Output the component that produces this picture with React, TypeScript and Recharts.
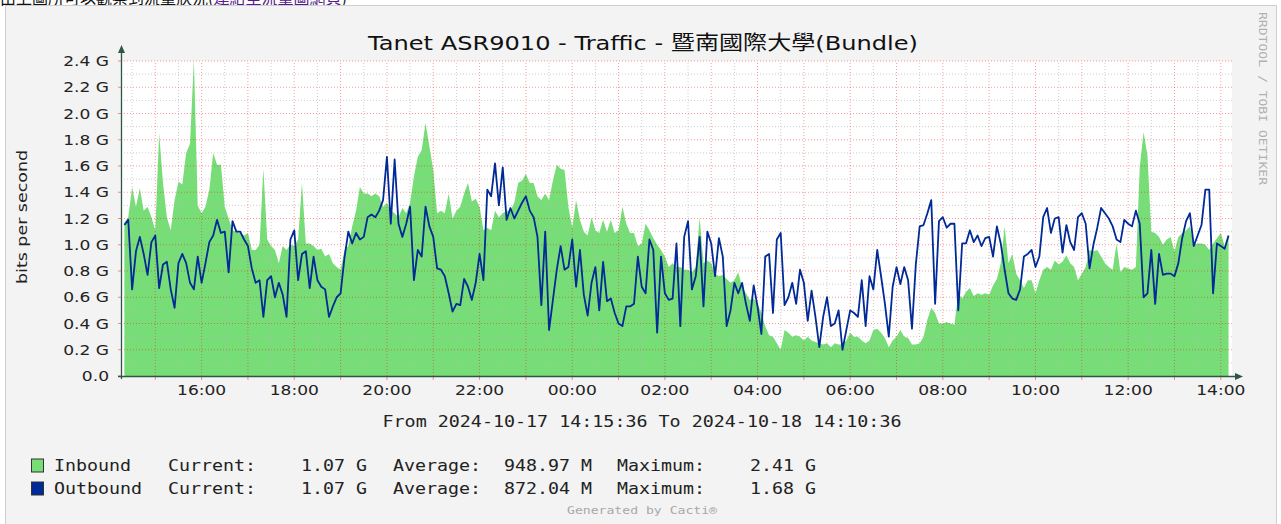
import { Area, ComposedChart, Line, ReferenceLine, XAxis, YAxis } from "recharts";

// minutes from 2024-10-17 00:00
const rangeStart = 855.6; // 14:15:36
const rangeEnd = 2294.5;
const firstSample = 860; // 14:20
const sampleStep = 5;

// Gbit/s, one reading every 5 minutes from 14:20 to 14:10 next day
const inbound = [
  1.17, 1.21, 1.44, 1.29, 1.43, 1.26, 1.29, 1.21, 1.11, 1.85, 1.47, 1.21,
  1.11, 1.34, 1.48, 1.46, 1.70, 1.77, 2.41, 1.30, 1.24, 1.29, 1.42, 1.70,
  1.61, 1.61, 1.29, 1.20, 1.11, 1.10, 1.09, 1.07, 1.09, 0.96, 0.96, 1.00,
  1.58, 1.04, 0.99, 0.96, 0.86, 0.99, 0.96, 1.00, 0.99, 1.04, 1.47, 1.01,
  1.01, 0.99, 0.96, 0.97, 0.91, 0.93, 0.86, 0.83, 0.81, 0.96, 0.99, 1.14,
  1.26, 1.44, 1.39, 1.39, 1.37, 1.39, 1.37, 1.29, 1.32, 1.26, 1.24, 1.21,
  1.28, 1.24, 1.32, 1.52, 1.67, 1.72, 1.93, 1.75, 1.57, 1.24, 1.26, 1.24,
  1.39, 1.20, 1.26, 1.29, 1.39, 1.47, 1.33, 1.35, 1.29, 1.11, 1.13, 1.11,
  1.26, 1.21, 1.24, 1.26, 1.26, 1.32, 1.47, 1.49, 1.54, 1.47, 1.47, 1.37,
  1.34, 1.39, 1.34, 1.49, 1.61, 1.58, 1.57, 1.29, 1.13, 1.34, 1.19, 1.10,
  1.07, 1.21, 1.11, 1.09, 1.19, 1.10, 1.19, 1.09, 1.11, 1.29, 1.16, 1.09,
  1.09, 0.99, 1.01, 1.16, 1.11, 1.05, 1.00, 0.96, 0.91, 0.83, 0.86, 0.83,
  0.83, 0.81, 0.81, 0.79, 0.83, 1.21, 0.86, 0.88, 0.86, 0.78, 0.76, 0.77,
  0.74, 0.71, 0.73, 0.79, 0.68, 0.63, 0.58, 0.59, 0.55, 0.48, 0.38, 0.31,
  0.30, 0.25, 0.20, 0.35, 0.33, 0.30, 0.31, 0.30, 0.27, 0.30, 0.27, 0.26,
  0.25, 0.24, 0.25, 0.22, 0.25, 0.24, 0.24, 0.27, 0.33, 0.30, 0.30, 0.27,
  0.25, 0.27, 0.35, 0.36, 0.33, 0.29, 0.22, 0.27, 0.30, 0.35, 0.30, 0.29,
  0.24, 0.24, 0.25, 0.30, 0.43, 0.52, 0.48, 0.40, 0.40, 0.41, 0.40, 0.39,
  0.63, 0.59, 0.64, 0.67, 0.61, 0.63, 0.62, 0.63, 0.62, 0.69, 0.74, 0.86,
  1.14, 0.86, 0.93, 0.78, 0.73, 0.67, 0.73, 0.73, 0.63, 0.73, 0.81, 0.83,
  0.81, 0.88, 0.85, 0.87, 0.92, 0.86, 0.83, 0.73, 0.78, 0.83, 0.96, 0.95,
  0.96, 0.91, 0.86, 0.83, 0.81, 1.01, 0.79, 0.83, 0.82, 0.81, 0.83, 1.59,
  1.86, 1.68, 1.10, 1.09, 1.06, 1.00, 1.04, 1.06, 0.95, 1.06, 1.09, 1.11,
  1.14, 1.00, 1.01, 1.01, 1.00, 0.96, 1.01, 1.05, 1.09, 0.99, 1.07,
];

const outbound = [
  1.15, 1.19, 0.66, 0.95, 1.06, 0.93, 0.77, 1.02, 1.07, 0.67, 0.85, 0.87,
  0.66, 0.52, 0.86, 0.93, 0.86, 0.71, 0.66, 0.91, 0.71, 0.86, 1.02, 1.07,
  1.19, 1.09, 1.10, 0.79, 1.18, 1.10, 1.10, 1.04, 0.99, 0.82, 0.71, 0.73,
  0.45, 0.73, 0.76, 0.60, 0.71, 0.62, 0.45, 1.04, 1.11, 0.73, 0.93, 0.95,
  0.67, 0.91, 0.73, 0.68, 0.66, 0.45, 0.53, 0.60, 0.63, 0.90, 1.10, 1.01,
  1.09, 1.04, 1.06, 1.21, 1.23, 1.21, 1.26, 1.34, 1.67, 1.16, 1.65, 1.16,
  1.06, 1.16, 1.29, 0.73, 0.96, 0.91, 1.29, 1.14, 1.06, 0.82, 0.81, 0.76,
  0.63, 0.49, 0.55, 0.54, 0.74, 0.68, 0.58, 0.71, 0.93, 0.73, 1.42, 1.37,
  1.62, 1.30, 1.59, 1.19, 1.28, 1.20, 1.26, 1.32, 1.37, 1.26, 1.21, 1.06,
  0.54, 1.10, 0.35, 0.58, 0.81, 0.99, 0.81, 0.83, 1.04, 0.68, 0.96, 0.62,
  0.46, 0.71, 0.83, 0.50, 0.87, 0.57, 0.59, 0.48, 0.40, 0.38, 0.53, 0.53,
  0.55, 0.91, 0.68, 0.63, 1.04, 0.96, 0.33, 0.91, 0.63, 0.58, 0.59, 1.01,
  0.38, 1.06, 1.18, 0.66, 0.76, 1.06, 0.53, 1.10, 1.01, 0.76, 1.05, 0.91,
  0.38, 0.50, 0.71, 0.63, 0.71, 0.55, 0.42, 0.69, 0.53, 0.32, 0.91, 0.93,
  0.48, 1.04, 1.09, 0.54, 0.60, 0.71, 0.55, 0.81, 0.71, 0.42, 0.65, 0.45,
  0.22, 0.45, 0.60, 0.38, 0.40, 0.50, 0.20, 0.35, 0.50, 0.48, 0.45, 0.73,
  0.38, 0.76, 0.66, 0.96, 0.76, 0.55, 0.30, 0.68, 0.83, 0.70, 0.83, 0.73,
  0.36, 0.85, 1.14, 1.15, 1.24, 1.34, 0.55, 1.18, 1.21, 1.13, 1.16, 1.16,
  0.50, 1.01, 1.01, 1.11, 1.02, 1.07, 0.99, 1.05, 1.06, 0.91, 1.14, 1.01,
  0.81, 0.63, 0.59, 0.58, 0.66, 0.91, 0.93, 0.96, 0.83, 0.91, 1.21, 1.28,
  1.09, 1.20, 1.21, 0.94, 1.15, 1.02, 0.96, 1.21, 1.24, 1.16, 0.82, 1.00,
  1.13, 1.28, 1.24, 1.20, 1.14, 1.04, 1.02, 1.19, 1.16, 1.14, 1.26, 1.16,
  0.60, 0.63, 0.96, 0.55, 0.93, 0.77, 0.78, 0.78, 0.76, 0.86, 1.05, 1.18,
  1.24, 0.99, 1.07, 1.15, 1.42, 1.42, 0.63, 1.01, 0.99, 0.97, 1.07,
];

const hourTicks = [
  900, 960, 1020, 1080, 1140, 1200, 1260, 1320, 1380, 1440, 1500, 1560,
  1620, 1680, 1740, 1800, 1860, 1920, 1980, 2040, 2100, 2160, 2220, 2280,
];
const halfHourTicks = hourTicks.map((m) => m - 30);
const yTicks = [0, 0.2, 0.4, 0.6, 0.8, 1.0, 1.2, 1.4, 1.6, 1.8, 2.0, 2.2, 2.4];
const yMinorTicks = [0.1, 0.3, 0.5, 0.7, 0.9, 1.1, 1.3, 1.5, 1.7, 1.9, 2.1, 2.3];

const legendRows = [
  { name: "Inbound", color: "#77dd77", current: "1.07 G", average: "948.97 M", maximum: "2.41 G" },
  { name: "Outbound", color: "#002a97", current: "1.07 G", average: "872.04 M", maximum: "1.68 G" },
];

const rows = inbound.map((v, i) => ({
  t: firstSample + i * sampleStep,
  inbound: v,
  outbound: outbound[i],
}));

const SANS = "'DejaVu Sans', 'Noto Sans CJK TC', sans-serif";
const MONO = "'DejaVu Sans Mono', monospace";
const AXIS = "#2f5545";
const PLOT_BOTTOM = 376;

function XTick({ x, y, payload }: any) {
  const m = payload.value as number;
  const hour = m / 60;
  const label = `${String(hour % 24).padStart(2, "0")}:00`;
  return (
    <g>
      <line x1={x} x2={x} y1={PLOT_BOTTOM} y2={PLOT_BOTTOM + 4} stroke="#ff0000" strokeOpacity={0.45} />
      {hour % 2 === 0 ? (
        <text
          transform={`translate(${x} ${y}) scale(1.17 1)`}
          textAnchor="middle"
          dominantBaseline="central"
          fontFamily={SANS}
          fontSize={14.6}
          fill="#222"
        >
          {label}
        </text>
      ) : null}
    </g>
  );
}

function YTick({ x, y, payload }: any) {
  const v = payload.value as number;
  const label = v === 0 ? "0.0" : `${v.toFixed(1)} G`;
  return (
    <g>
      <line x1={x + 9} x2={x + 12} y1={y} y2={y} stroke="#ff0000" strokeOpacity={0.45} />
      <text
        transform={`translate(${x} ${y}) scale(1.17 1)`}
        textAnchor="end"
        dominantBaseline="central"
        fontFamily={SANS}
        fontSize={14.6}
        fill="#222"
      >
        {label}
      </text>
    </g>
  );
}

export default function App() {
  return (
    <div
      style={{
        position: "fixed",
        left: 0,
        top: 0,
        width: 1281,
        height: 524,
        background: "#fff",
        overflow: "hidden",
      }}
    >
      <div
        style={{
          position: "absolute",
          left: 0,
          top: -15,
          fontSize: 16,
          fontFamily: "'Noto Sans CJK TC', sans-serif",
          whiteSpace: "nowrap",
          color: "#111",
        }}
      >
        由上圖所可以觀察到流量狀況(
        <span style={{ color: "#551a8b", textDecoration: "underline" }}>連結至流量圖網頁</span>)
      </div>
      <div
        style={{
          position: "absolute",
          left: 5,
          top: 5,
          width: 1272,
          height: 540,
          background: "#f3f3f3",
          border: "1px solid #cfcfcf",
          boxSizing: "border-box",
        }}
      />
      <div style={{ position: "absolute", left: 121, top: 61, width: 1111, height: 315, background: "#fff" }} />
      <div style={{ position: "absolute", left: 0, top: 0 }}>
        <ComposedChart
          width={1281}
          height={524}
          data={rows}
          margin={{ top: 61, right: 49, bottom: 0, left: 0 }}
        >
          <XAxis
            dataKey="t"
            type="number"
            domain={[rangeStart, rangeEnd]}
            allowDataOverflow
            ticks={hourTicks}
            interval={0}
            height={148}
            axisLine={false}
            tickLine={false}
            tickSize={0}
            tickMargin={14}
            tick={<XTick />}
          />
          <YAxis
            type="number"
            domain={[0, 2.4]}
            allowDataOverflow
            ticks={yTicks}
            interval={0}
            width={121}
            axisLine={false}
            tickLine={false}
            tickSize={0}
            tickMargin={12}
            tick={<YTick />}
          />
          <Area
            dataKey="inbound"
            type="linear"
            stroke="none"
            fill="#77dd77"
            fillOpacity={1}
            isAnimationActive={false}
          />
          {halfHourTicks.map((m) => (
            <ReferenceLine key={`hx${m}`} x={m} stroke="#b8b8b8" strokeOpacity={0.7} strokeDasharray="1 2" />
          ))}
          {yMinorTicks.map((v) => (
            <ReferenceLine key={`hy${v}`} y={v} stroke="#b8b8b8" strokeOpacity={0.7} strokeDasharray="1 2" />
          ))}
          {hourTicks.map((m) => (
            <ReferenceLine key={`mx${m}`} x={m} stroke="#ff0000" strokeOpacity={0.4} strokeDasharray="1 2" />
          ))}
          {yTicks.slice(1).map((v) => (
            <ReferenceLine key={`my${v}`} y={v} stroke="#ff0000" strokeOpacity={0.4} strokeDasharray="1 2" />
          ))}
          <Line
            dataKey="outbound"
            type="linear"
            stroke="#002a97"
            strokeWidth={1.8}
            strokeLinejoin="round"
            dot={false}
            isAnimationActive={false}
          />
        </ComposedChart>
      </div>
      <svg
        width={1281}
        height={524}
        style={{ position: "absolute", left: 0, top: 0, pointerEvents: "none" }}
      >
        <text
          x={643}
          y={50}
          textAnchor="middle"
          fontFamily={SANS}
          fontSize={20}
          textLength={550}
          lengthAdjust="spacingAndGlyphs"
          fill="#111"
        >
          Tanet ASR9010 - Traffic - 暨南國際大學(Bundle)
        </text>
        <text
          transform="translate(27 217) rotate(-90)"
          textAnchor="middle"
          fontFamily={SANS}
          fontSize={14}
          textLength={134}
          lengthAdjust="spacingAndGlyphs"
          fill="#222"
        >
          bits per second
        </text>
        <text
          transform="translate(1259 12) rotate(90)"
          fontFamily={MONO}
          fontSize={10}
          textLength={173}
          lengthAdjust="spacingAndGlyphs"
          fill="#b0b0b0"
        >
          RRDTOOL / TOBI OETIKER
        </text>

        <line x1={121.5} x2={121.5} y1={PLOT_BOTTOM + 3} y2={52} stroke={AXIS} strokeWidth={1.3} />
        <polygon points="118,53 125,53 121.5,45" fill={AXIS} />
        <line x1={118} x2={1236} y1={PLOT_BOTTOM + 0.5} y2={PLOT_BOTTOM + 0.5} stroke={AXIS} strokeWidth={1.3} />
        <polygon points="1235,373 1235,380 1243,376.5" fill={AXIS} />

        <text
          x={642}
          y={427}
          textAnchor="middle"
          fontFamily={MONO}
          fontSize={15}
          textLength={519}
          lengthAdjust="spacingAndGlyphs"
          fill="#222"
        >
          From 2024-10-17 14:15:36 To 2024-10-18 14:10:36
        </text>

        {legendRows.map((r, i) => {
          const base = 471.5 + i * 23;
          return (
            <g key={r.name} fontFamily={MONO} fontSize={15} fill="#222">
              <rect x={31.5} y={base - 12.5} width={12} height={13} fill={r.color} stroke="#333" strokeWidth={1} />
              <text x={54} y={base} transform={`translate(54 0) scale(1.22 1) translate(-54 0)`}>
                {r.name}
              </text>
              <text x={168} y={base} transform={`translate(168 0) scale(1.22 1) translate(-168 0)`}>
                Current:
              </text>
              <text
                x={367}
                y={base}
                textAnchor="end"
                transform={`translate(367 0) scale(1.22 1) translate(-367 0)`}
              >
                {r.current}
              </text>
              <text x={393} y={base} transform={`translate(393 0) scale(1.22 1) translate(-393 0)`}>
                Average:
              </text>
              <text
                x={592}
                y={base}
                textAnchor="end"
                transform={`translate(592 0) scale(1.22 1) translate(-592 0)`}
              >
                {r.average}
              </text>
              <text x={617} y={base} transform={`translate(617 0) scale(1.22 1) translate(-617 0)`}>
                Maximum:
              </text>
              <text
                x={816}
                y={base}
                textAnchor="end"
                transform={`translate(816 0) scale(1.22 1) translate(-816 0)`}
              >
                {r.maximum}
              </text>
            </g>
          );
        })}

        <text
          x={642}
          y={514}
          textAnchor="middle"
          fontFamily={MONO}
          fontSize={10}
          textLength={150}
          lengthAdjust="spacingAndGlyphs"
          fill="#a8a8a8"
        >
          Generated by Cacti®
        </text>
      </svg>
    </div>
  );
}
